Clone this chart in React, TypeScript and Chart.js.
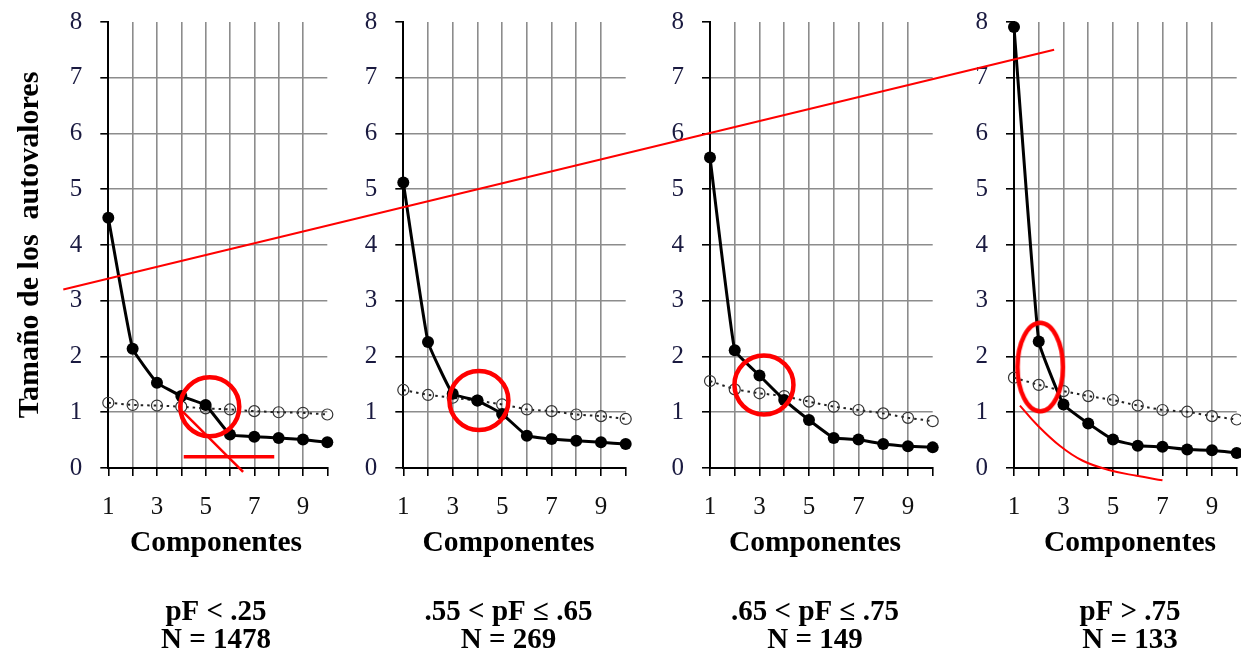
import React, { useEffect, useRef } from 'react';
import { Chart, registerables } from 'chart.js';

Chart.register(...registerables);

// ---------- data ----------
const COMPONENTS = [1, 2, 3, 4, 5, 6, 7, 8, 9, 10];
const X_TICK_LABELS = ['1', '', '3', '', '5', '', '7', '', '9', ''];
const Y_MIN = 0;
const Y_MAX = 8;

const EIGEN_P1 = [4.49, 2.14, 1.53, 1.29, 1.13, 0.6, 0.56, 0.54, 0.51, 0.46];
const PARALLEL_P1 = [1.17, 1.13, 1.12, 1.1, 1.07, 1.05, 1.02, 1.0, 0.99, 0.96];
const EIGEN_P2 = [5.12, 2.26, 1.33, 1.21, 0.97, 0.58, 0.52, 0.49, 0.46, 0.43];
const PARALLEL_P2 = [1.4, 1.31, 1.26, 1.21, 1.14, 1.05, 1.02, 0.96, 0.93, 0.88];
const EIGEN_P3 = [5.57, 2.11, 1.66, 1.22, 0.86, 0.54, 0.51, 0.43, 0.39, 0.37];
const PARALLEL_P3 = [1.56, 1.41, 1.34, 1.29, 1.19, 1.1, 1.04, 0.98, 0.9, 0.84];
const EIGEN_P4 = [7.91, 2.27, 1.14, 0.8, 0.51, 0.4, 0.38, 0.33, 0.32, 0.27];
const PARALLEL_P4 = [1.62, 1.49, 1.38, 1.29, 1.22, 1.12, 1.04, 1.01, 0.93, 0.87];

const EIGEN = [EIGEN_P1, EIGEN_P2, EIGEN_P3, EIGEN_P4];
const PARALLEL = [PARALLEL_P1, PARALLEL_P2, PARALLEL_P3, PARALLEL_P4];

const X_TITLE = 'Componentes';
const Y_TITLE = 'Tamaño de los  autovalores';
const GROUP_LABELS = ['pF < .25', '.55 < pF ≤ .65', '.65 < pF ≤ .75', 'pF > .75'];
const GROUP_N = ['N = 1478', 'N = 269', 'N = 149', 'N = 133'];

// red annotations (in component / eigenvalue units)
const CIRCLE_P1 = [{ x: 5.17, y: 1.1 }];
const CIRCLE_P2 = [{ x: 4.06, y: 1.21 }];
const CIRCLE_P3 = [{ x: 3.18, y: 1.49 }];
const ELLIPSE_P4 = [{ x: 2.06, y: 1.81 }];
const CROSS_LINE_P1 = [{ x: 4.06, y: 1.01 }, { x: 6.54, y: -0.07 }];
const BASE_LINE_P1 = [{ x: 4.1, y: 0.2 }, { x: 7.82, y: 0.2 }];
const CURVE_P4 = [
  { x: 1.24, y: 1.12 }, { x: 1.92, y: 0.78 }, { x: 2.85, y: 0.4 }, { x: 3.78, y: 0.13 },
  { x: 4.87, y: -0.04 }, { x: 5.96, y: -0.14 }, { x: 7.0, y: -0.22 },
];
// trend line across panels, expressed in panel-1 units
const TREND_LINE = [{ x: -0.85, y: 3.17 }, { x: 39.87, y: 7.5 }];

// ---------- layout ----------
const PAGE_W = 1241;
const PAGE_H = 656;
const PANEL_LEFT = [0, 350, 655, 970];
const PANEL_WIDTH = [432, 317, 320, 320];
const AXIS_X = [108.3, 403.3, 710, 1014];
const LAST_X = [327.3, 625.7, 932.7, 1236.7];
const PLOT_TOP = 22;
const PLOT_BOTTOM = 465;

const FONT = "'Liberation Serif', 'Times New Roman', serif";
const RED = '#ff0000';
const GRID = '#8c8c8c';
const CLEAR = 'rgba(0,0,0,0)';

function pts(values: number[]) {
  return COMPONENTS.map((c, k) => ({ x: c, y: values[k] }));
}

function makeEllipse(): HTMLCanvasElement {
  const c = document.createElement('canvas');
  c.width = 52;
  c.height = 94;
  const g = c.getContext('2d')!;
  g.strokeStyle = RED;
  g.lineWidth = 4.5;
  g.beginPath();
  g.ellipse(26, 47, 22.7, 44.2, 0, 0, Math.PI * 2);
  g.stroke();
  return c;
}

function circleDs(data: any[]) {
  return {
    data,
    showLine: false,
    pointRadius: 29.5,
    pointBorderWidth: 4.5,
    pointBorderColor: RED,
    pointBackgroundColor: CLEAR,
    clip: false,
    order: 0,
  };
}

function redLineDs(data: any[], width: number, tension = 0) {
  return {
    data,
    borderColor: RED,
    borderWidth: width,
    pointRadius: 0,
    tension,
    clip: false,
    order: 0,
  };
}

function zeroPad(s: any) {
  s.paddingTop = 0;
  s.paddingBottom = 0;
  s.paddingLeft = 0;
  s.paddingRight = 0;
}

function panelConfig(i: number, ellipse: HTMLCanvasElement): any {
  const datasets: any[] = [
    {
      data: pts(EIGEN[i]),
      borderColor: '#000',
      borderWidth: 3,
      pointRadius: 6,
      pointBackgroundColor: '#000',
      pointBorderColor: '#000',
      pointBorderWidth: 0,
      tension: 0.1,
      clip: false,
      order: 1,
    },
    {
      data: pts(PARALLEL[i]),
      borderColor: '#222',
      borderWidth: 2,
      borderDash: [2.5, 4],
      pointRadius: 5.5,
      pointBackgroundColor: CLEAR,
      pointBorderColor: '#333',
      pointBorderWidth: 1.2,
      tension: 0,
      clip: false,
      order: 2,
    },
  ];
  if (i === 0) {
    datasets.push(circleDs(CIRCLE_P1));
    datasets.push(redLineDs(CROSS_LINE_P1, 2.5));
    datasets.push(redLineDs(BASE_LINE_P1, 3.5));
  } else if (i === 1) {
    datasets.push(circleDs(CIRCLE_P2));
  } else if (i === 2) {
    datasets.push(circleDs(CIRCLE_P3));
  } else {
    datasets.push({
      data: ELLIPSE_P4,
      showLine: false,
      pointRadius: 20,
      pointStyle: ellipse,
      clip: false,
      order: 0,
    });
    datasets.push(redLineDs(CURVE_P4, 2, 0.4));
  }

  const yW = AXIS_X[i] - PANEL_LEFT[i];
  const rW = PANEL_LEFT[i] + PANEL_WIDTH[i] - LAST_X[i];

  return {
    type: 'line',
    data: { datasets },
    options: {
      responsive: false,
      animation: false,
      events: [],
      layout: { autoPadding: false, padding: { top: PLOT_TOP, left: 0, right: 0, bottom: 0 } },
      plugins: {
        legend: { display: false },
        tooltip: { enabled: false },
        subtitle: {
          display: true,
          text: X_TITLE,
          position: 'bottom',
          color: '#000',
          font: { family: FONT, size: 29.5, weight: 'bold', lineHeight: 1 },
          padding: { top: 0, bottom: 38 },
        },
        title: {
          display: true,
          text: [GROUP_LABELS[i], GROUP_N[i]],
          position: 'bottom',
          color: '#000',
          font: { family: FONT, size: 29, weight: 'bold', lineHeight: 28 / 29 },
          padding: { top: 3, bottom: 1 },
        },
      },
      scales: {
        x: {
          type: 'linear',
          position: 'bottom',
          min: 1,
          max: 10,
          afterFit: (s: any) => {
            s.height = 60.5;
            zeroPad(s);
          },
          ticks: {
            stepSize: 1,
            autoSkip: false,
            maxRotation: 0,
            padding: 16,
            color: '#111',
            font: { family: FONT, size: 25 },
            callback: (v: any) => {
              const k = COMPONENTS.indexOf(Number(v));
              return k >= 0 ? X_TICK_LABELS[k] : '';
            },
          },
          grid: {
            color: (ctx: any) =>
              ctx.tick && (ctx.tick.value === 1 || ctx.tick.value === 10) ? CLEAR : GRID,
            lineWidth: 1.6,
            tickColor: '#000',
            tickWidth: 1.6,
            tickLength: 8,
          },
          border: { display: true, color: '#000', width: 2 },
        },
        y: {
          type: 'linear',
          position: 'left',
          min: Y_MIN,
          max: Y_MAX,
          afterFit: (s: any) => {
            s.width = yW;
            zeroPad(s);
          },
          ticks: {
            stepSize: 1,
            padding: 18,
            color: '#1a1a40',
            font: { family: FONT, size: 25 },
          },
          grid: {
            color: (ctx: any) =>
              ctx.tick && (ctx.tick.value === Y_MIN || ctx.tick.value === Y_MAX) ? CLEAR : GRID,
            lineWidth: 1.6,
            tickColor: '#000',
            tickWidth: 1.6,
            tickLength: 8,
          },
          border: { display: true, color: '#000', width: 2 },
          title:
            i === 0
              ? {
                  display: true,
                  text: Y_TITLE,
                  color: '#000',
                  font: { family: FONT, size: 30, weight: 'bold', lineHeight: 1.2 },
                  padding: { top: 12, bottom: 0 },
                }
              : { display: false },
        },
        yr: {
          type: 'linear',
          position: 'right',
          display: true,
          afterFit: (s: any) => {
            s.width = rW;
            zeroPad(s);
          },
          ticks: { display: false },
          grid: { display: false, drawTicks: false },
          border: { display: false },
        },
      },
    },
  };
}

function overlayConfig(): any {
  return {
    type: 'line',
    data: {
      datasets: [redLineDs(TREND_LINE, 2)],
    },
    options: {
      responsive: false,
      animation: false,
      events: [],
      layout: {
        autoPadding: false,
        padding: {
          left: AXIS_X[0],
          right: PAGE_W - LAST_X[0],
          top: PLOT_TOP,
          bottom: PAGE_H - PLOT_BOTTOM,
        },
      },
      plugins: { legend: { display: false }, tooltip: { enabled: false } },
      scales: {
        x: { type: 'linear', min: 1, max: 10, display: false },
        y: { type: 'linear', min: Y_MIN, max: Y_MAX, display: false },
      },
    },
  };
}

export default function App() {
  const refs = useRef<(HTMLCanvasElement | null)[]>([]);
  const overlayRef = useRef<HTMLCanvasElement | null>(null);

  useEffect(() => {
    const ellipse = makeEllipse();
    const charts: Chart[] = [];
    for (let i = 0; i < 4; i++) {
      const cv = refs.current[i];
      if (cv) charts.push(new Chart(cv, panelConfig(i, ellipse)));
    }
    if (overlayRef.current) charts.push(new Chart(overlayRef.current, overlayConfig()));
    return () => charts.forEach((c) => c.destroy());
  }, []);

  return (
    <div
      style={{
        position: 'absolute',
        left: 0,
        top: 0,
        width: PAGE_W,
        height: PAGE_H,
        overflow: 'hidden',
        background: '#fff',
      }}
    >
      {[0, 1, 2, 3].map((i) => (
        <canvas
          key={i}
          ref={(el) => {
            refs.current[i] = el;
          }}
          width={PANEL_WIDTH[i]}
          height={PAGE_H}
          style={{
            position: 'absolute',
            left: PANEL_LEFT[i],
            top: 0,
            width: PANEL_WIDTH[i],
            height: PAGE_H,
          }}
        />
      ))}
      <canvas
        ref={overlayRef}
        width={PAGE_W}
        height={PAGE_H}
        style={{ position: 'absolute', left: 0, top: 0, width: PAGE_W, height: PAGE_H, pointerEvents: 'none' }}
      />
    </div>
  );
}
